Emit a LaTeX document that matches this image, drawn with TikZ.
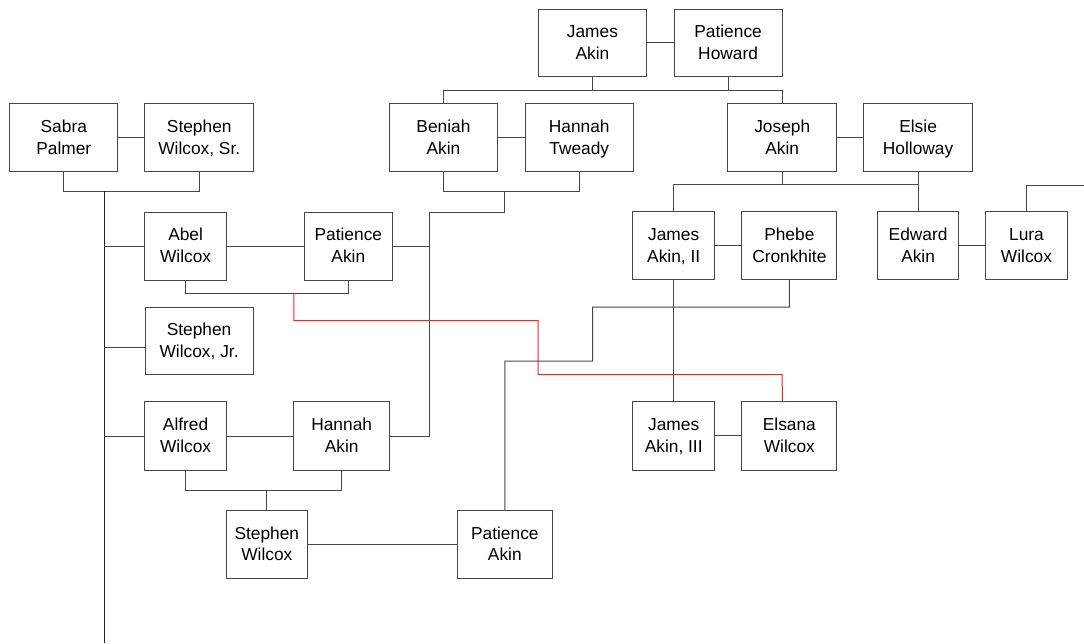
\documentclass[tikz,border=0pt]{standalone}
\usepackage{fontspec}
\setmainfont{Liberation Sans}
\definecolor{linec}{HTML}{474747}
\definecolor{trunkc}{HTML}{222222}
\definecolor{redc}{HTML}{FF2020}
\tikzset{
  pbox/.style={draw=linec, line width=0.75pt, fill=white, align=center, inner sep=0pt,
    font=\fontsize{13pt}{16.3pt}\selectfont},
  conn/.style={draw=linec, line width=0.75pt},
  trunkline/.style={draw=trunkc, line width=0.9pt},
  redline/.style={draw=redc, line width=0.75pt}
}
\newcommand\linestrut{\rule[-3.9pt]{0pt}{16.3pt}}
\newcommand\personbox[7]{%
  \node[pbox, minimum width={(#4-#2)*0.75pt}, minimum height={(#5-#3)*0.75pt}]
    (#1) at ({(#2+#4)/2},{(#3+#5)/2}) {#6\linestrut\\#7\linestrut};}
\begin{document}
\begin{tikzpicture}[x=0.75pt,y=-0.75pt]
\useasboundingbox[fill=white] (0,0) rectangle (1084,643);
% coordinates for horizontal rails
\coordinate (g0) at (0,90);
\coordinate (g1) at (0,191.3);
\coordinate (g2) at (0,184.3);
\coordinate (g3) at (0,293.7);
\coordinate (g4) at (0,490.3);
\coordinate (trunktop) at (104.4,191.3);
\coordinate (trunkbot) at (104.4,643);
\coordinate (bt1) at (504.3,191.3);
\coordinate (bt2) at (504.3,212);
\coordinate (bt3) at (429.7,212);
\coordinate (lend) at (1084,185);
\coordinate (r1) at (293.8,293.7);
\coordinate (r2) at (293.8,320.7);
\coordinate (r3) at (538.2,320.7);
\coordinate (r4) at (538.2,374.7);
\coordinate (r5) at (782.2,374.7);
\coordinate (p1) at (789.5,307);
\coordinate (p2) at (592.5,307);
\coordinate (p3) at (592.5,361);
\coordinate (p4) at (504.85,361);

% boxes
\personbox{jamesA}{538.2}{9}{646.7}{76.3}{James}{Akin}
\personbox{patH}{674}{9}{782.2}{76.3}{Patience}{Howard}
\personbox{sabra}{9.7}{103.7}{117.9}{171.7}{Sabra}{Palmer}
\personbox{stephSr}{144.8}{103.7}{253.7}{171.7}{Stephen}{Wilcox, Sr.}
\personbox{beniah}{389.2}{103.7}{497.7}{171.7}{Beniah}{Akin}
\personbox{hannahT}{525.2}{103.7}{633.3}{171.7}{Hannah}{Tweady}
\personbox{joseph}{727.6}{103.7}{836.9}{171.7}{Joseph}{Akin}
\personbox{elsie}{863.5}{103.7}{972.7}{171.7}{Elsie}{Holloway}
\personbox{abel}{144.8}{212}{226.4}{280.3}{Abel}{Wilcox}
\personbox{patA1}{304.2}{212}{392.5}{280.3}{Patience}{Akin}
\personbox{jamesII}{632.9}{211.5}{714.5}{279.5}{James}{Akin, II}
\personbox{phebe}{741.8}{211.5}{836.9}{279.5}{Phebe}{Cronkhite}
\personbox{edward}{877.3}{211.5}{958.9}{279.5}{Edward}{Akin}
\personbox{lura}{985.5}{211.5}{1067.4}{279.5}{Lura}{Wilcox}
\personbox{stephJr}{145}{307.3}{253.2}{374.7}{Stephen}{Wilcox, Jr.}
\personbox{alfred}{144.8}{401.7}{226.4}{470.3}{Alfred}{Wilcox}
\personbox{hannahA}{293.8}{401.7}{389.6}{470.3}{Hannah}{Akin}
\personbox{jamesIII}{632.9}{401.7}{714.5}{470}{James}{Akin, III}
\personbox{elsana}{741.8}{401.7}{836.9}{470}{Elsana}{Wilcox}
\personbox{stephW}{226.4}{510.7}{307.3}{578}{Stephen}{Wilcox}
\personbox{patA2}{457.3}{510.7}{552.4}{578}{Patience}{Akin}
\coordinate (sjrin) at ([yshift=-4.5pt]stephJr.west);
\coordinate (elsin) at ([xshift=-5.3pt]elsana.north);

% top family
\draw[conn] (jamesA.east) -- (patH.west);
\draw[conn] (jamesA.south) -- (jamesA.south |- g0);
\draw[conn] (patH.south) -- (patH.south |- g0);
\draw[conn] (beniah.north) -- (beniah.north |- g0) -- (joseph.north |- g0) -- (joseph.north);

% Sabra / Stephen Sr
\draw[conn] (sabra.east) -- (stephSr.west);
\draw[conn] (sabra.south) -- (sabra.south |- g1) -- (stephSr.south |- g1) -- (stephSr.south);
\draw[trunkline] (trunktop) -- (trunkbot);
\draw[conn] (trunktop |- abel.west) -- (abel.west);
\draw[conn] (trunktop |- sjrin) -- (sjrin);
\draw[conn] (trunktop |- alfred.west) -- (alfred.west);

% Beniah / Hannah Tweady
\draw[conn] (beniah.east) -- (hannahT.west);
\draw[conn] (beniah.south) -- (beniah.south |- g1) -- (hannahT.south |- g1) -- (hannahT.south);
\draw[conn] (bt1) -- (bt2) -- (bt3) -- (bt3 |- hannahA.east) -- (hannahA.east);
\draw[conn] (patA1.east) -- (bt3 |- patA1.east);

% Joseph / Elsie
\draw[conn] (joseph.east) -- (elsie.west);
\draw[conn] (joseph.south) -- (joseph.south |- g2);
\draw[conn] (jamesII.north) -- (jamesII.north |- g2) -- (elsie.south |- g2);
\draw[conn] (elsie.south) -- (edward.north);
\draw[conn] (jamesII.east) -- (phebe.west);
\draw[conn] (edward.east) -- (lura.west);
\draw[conn] (lura.north) -- (lura.north |- lend) -- (lend);

% Abel / Patience
\draw[conn] (abel.east) -- (patA1.west);
\draw[conn] (abel.south) -- (abel.south |- g3) -- (patA1.south |- g3) -- (patA1.south);
\draw[redline] (r1) -- (r2) -- (r3) -- (r4) -- (r5) -- (elsin);

% James II / Phebe
\draw[conn] (phebe.south) -- (p1) -- (p2) -- (p3) -- (p4) -- (patA2.north);
\draw[conn] (jamesII.south) -- (jamesIII.north);
\draw[conn] (jamesIII.east) -- (elsana.west);

% Alfred / Hannah Akin
\draw[conn] (alfred.east) -- (hannahA.west);
\draw[conn] (alfred.south) -- (alfred.south |- g4) -- (hannahA.south |- g4) -- (hannahA.south);
\draw[conn] (stephW.north |- g4) -- (stephW.north);
\draw[conn] (stephW.east) -- (patA2.west);
\end{tikzpicture}
\end{document}
